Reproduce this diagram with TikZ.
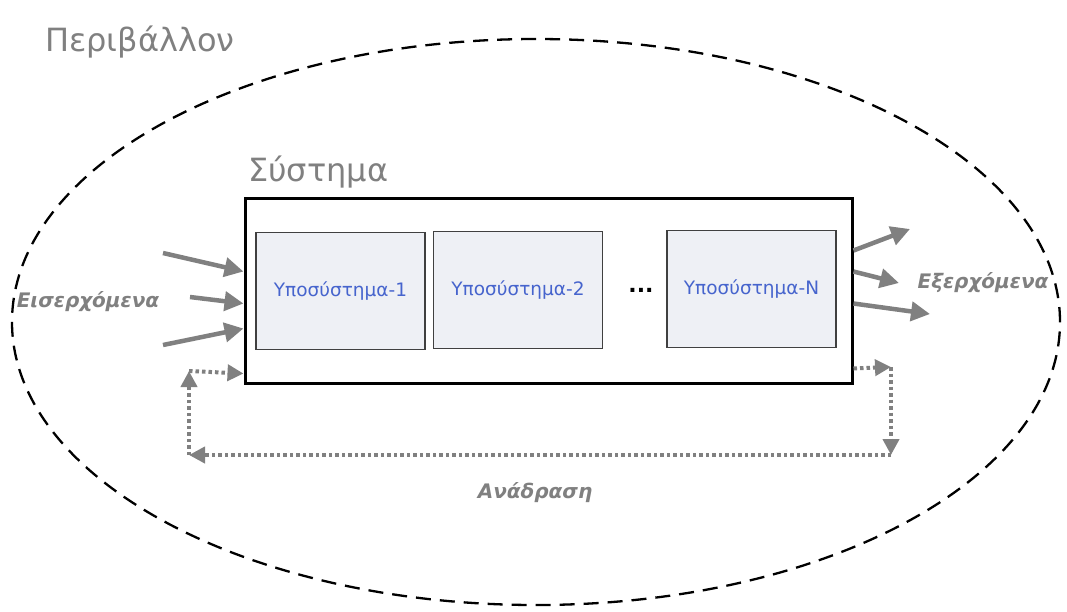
\documentclass[tikz,border=0pt]{standalone}
\usepackage{fontspec}
\setmainfont{DejaVu Sans}
\usetikzlibrary{arrows.meta,positioning,calc}
\definecolor{envgray}{RGB}{128,128,128}
\definecolor{subblue}{RGB}{70,100,205}
\definecolor{subfill}{RGB}{238,240,245}
\tikzset{
  sysbox/.style={draw=black, line width=3pt, fill=white, minimum width=607pt, minimum height=185pt, inner sep=0pt},
  subbox/.style={draw=black!75, fill=subfill, line width=1.4pt, minimum width=169pt, minimum height=117pt, inner sep=0pt, text=subblue, font=\fontsize{18.5}{22}\selectfont},
  flow/.style={draw=envgray, line width=4.5pt, -{Triangle[length=19pt,width=19pt]}},
  fback/.style={draw=envgray, line width=4pt, dash pattern=on 3.5pt off 3pt, -{Triangle[length=16pt,width=16pt]}},
  flowlabel/.style={text=envgray, font=\fontsize{20}{24}\selectfont\bfseries\itshape},
  title/.style={text=envgray, anchor=west, inner sep=0pt},
}
\begin{document}
\begin{tikzpicture}[x=1pt,y=-1pt]
\useasboundingbox (0,0) rectangle (1067,611);
% environment
\draw[line width=2.3pt, dash pattern=on 15pt off 9pt] (536,322) ellipse [x radius=524pt, y radius=283pt];
\node[title, font=\fontsize{32}{36}\selectfont] (env) at (45,42) {Περιβάλλον};
% system and its parts
\node[sysbox] (sys) at (548.5,290.5) {};
\node[title, font=\fontsize{32}{36}\selectfont] (systitle) at (248,172) {Σύστημα};
\node[subbox] (sub1) at (340.5,291) {Υποσύστημα-1};
\node[subbox] (sub2) at (518,290) {Υποσύστημα-2};
\node[subbox] (subN) at (751.5,289) {Υποσύστημα-N};
\node[font=\fontsize{22}{24}\selectfont\bfseries] (dots) at (641,290) {...};
% inputs
\coordinate (in1) at (163,253);
\coordinate (in2) at (190,297);
\coordinate (in3) at (163,345);
\draw[flow] (in1) -- ([yshift=-75pt]sys.north west);
\draw[flow] (in2) -- ([yshift=-107pt]sys.north west);
\draw[flow] (in3) -- ([yshift=-132pt]sys.north west);
\node[flowlabel] (inlabel) at (88,302) {Εισερχόμενα};
% outputs
\coordinate (out1) at (910,229);
\coordinate (out2) at (899,283);
\coordinate (out3) at (930,314);
\draw[flow] ([yshift=-54pt]sys.north east) -- (out1);
\draw[flow] ([yshift=-75pt]sys.north east) -- (out2);
\draw[flow] ([yshift=-107pt]sys.north east) -- (out3);
\node[flowlabel] (outlabel) at (983,283) {Εξερχόμενα};
% feedback loop
\coordinate (fbR) at (891,367);
\coordinate (fbRB) at (891,455);
\coordinate (fbL) at (189,455);
\coordinate (fbLT) at (189,371);
\draw[fback] ([yshift=16pt]sys.south east) -- (fbR);
\draw[fback] (fbR) -- (fbRB);
\draw[fback] (fbRB) -- (fbL);
\draw[fback] (fbL) -- (fbLT);
\draw[fback] (fbLT) -- ([yshift=11pt]sys.south west);
\node[flowlabel] (fblabel) at (535,493) {Ανάδραση};
\end{tikzpicture}
\end{document}
